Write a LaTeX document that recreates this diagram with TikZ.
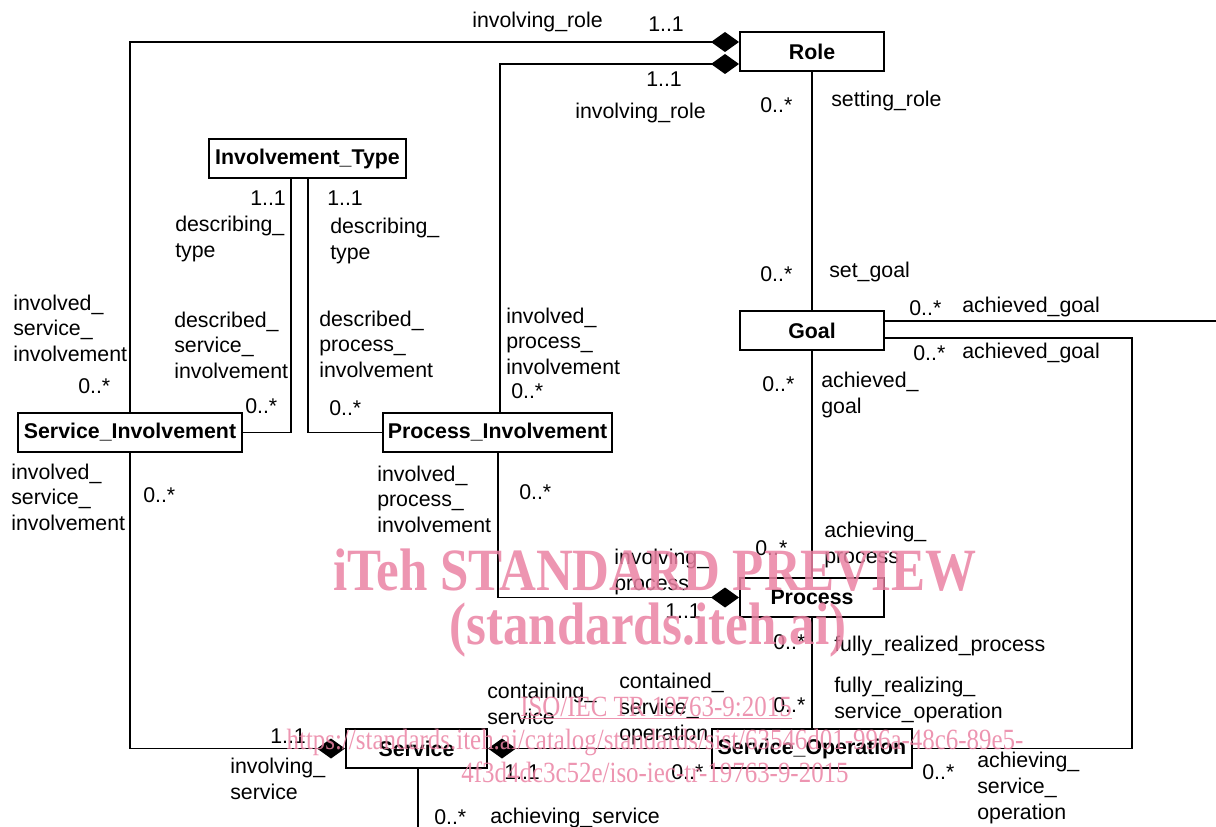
\documentclass[tikz,border=0pt]{standalone}
\usepackage{fontspec}
\setmainfont{Liberation Sans}
\newfontfamily\wmfont[FakeStretch=0.85]{Liberation Serif}
\usetikzlibrary{arrows.meta,calc}
\definecolor{wmpink}{RGB}{234,130,163}
\begin{document}
\begin{tikzpicture}[x=0.75pt,y=-0.75pt,
  box/.style={draw,line width=1.5pt,inner sep=0pt,minimum height=29.25pt,font=\fontsize{16}{19.2}\selectfont\bfseries},
  conn/.style={line width=1pt},
  comp/.style={conn,-{Diamond[length=21pt,width=15pt]}},
  lbl/.style={anchor=west,inner sep=0pt,align=left,yshift=-1.5pt,font=\fontsize{16}{19.2}\selectfont},
  wmbig/.style={text=wmpink,opacity=0.85,inner sep=0pt,font=\wmfont\bfseries\fontsize{45}{50}\selectfont},
  wmsmall/.style={text=wmpink,opacity=0.85,inner sep=0pt,font=\wmfont\fontsize{22}{24}\selectfont}]
\useasboundingbox (0,0) rectangle (1216,827);

% boxes
\node[box,minimum width=108pt] (role) at (812,51.5) {Role};
\node[box,minimum width=147.75pt] (itype) at (307.5,158.5) {Involvement\_Type};
\node[box,minimum width=168pt] (sinv) at (130,432.5) {Service\_Involvement};
\node[box,minimum width=171.75pt] (pinv) at (497.5,432.5) {Process\_Involvement};
\node[box,minimum width=108pt] (goal) at (812,330.5) {Goal};
\node[box,minimum width=108pt] (proc) at (812,597.5) {Process};
\node[box,minimum width=150pt] (sop) at (812,748.5) {Service\_Operation};
\node[box,minimum width=105.75pt] (serv) at (416.5,748.5) {Service};

% connectors
\draw[comp] (sinv.north) |- ($(role.west)+(0,-9.5)$);
\draw[comp] ($(pinv.north)+(2.5,0)$) |- ($(role.west)+(0,12.5)$);
\draw[conn] (role.south) -- (goal.north);
\draw[conn] (goal.south) -- (proc.north);
\draw[conn] (proc.south) -- (sop.north);
\draw[conn] ($(itype.south)+(-16.5,0)$) |- (sinv.east);
\draw[conn] ($(itype.south)+(0.5,0)$) |- (pinv.west);
\coordinate (goalout) at (1216,321);
\draw[conn] ($(goal.east)+(0,-9.5)$) -- (goalout);
\draw[conn] ($(goal.east)+(0,7.5)$) -| ($(sop.east)+(219,0)$) -- (sop.east);
\draw[comp] (sinv.south) |- (serv.west);
\draw[comp] ($(pinv.south)+(0.5,0)$) |- (proc.west);
\draw[comp] (sop.west) -- (serv.east);
\coordinate (servout) at (418,827);
\draw[conn] ($(serv.south)+(1.5,0)$) -- (servout);

% labels
\node[lbl] (l1) at (472,20) {involving\_role};
\node[lbl] (l2) at (648,22) {1..1};
\node[lbl] (l3) at (646,77) {1..1};
\node[lbl] (l4) at (575,111) {involving\_role};
\node[lbl] (l5) at (760,103) {0..*};
\node[lbl] (l6) at (831,99) {setting\_role};
\node[lbl] (l7) at (250,196) {1..1};
\node[lbl] (l8) at (327,196) {1..1};
\node[lbl] (l9) at (175,237) {describing\_\\type};
\node[lbl] (l10) at (330,239) {describing\_\\type};
\node[lbl] (l11) at (13,326) {involved\_\\service\_\\involvement};
\node[lbl] (l12) at (78,384) {0..*};
\node[lbl] (l13) at (174,343) {described\_\\service\_\\involvement};
\node[lbl] (l14) at (245,404) {0..*};
\node[lbl] (l15) at (319,342) {described\_\\process\_\\involvement};
\node[lbl] (l16) at (329,406) {0..*};
\node[lbl] (l17) at (506,339) {involved\_\\process\_\\involvement};
\node[lbl] (l18) at (511,389) {0..*};
\node[lbl] (l19) at (760,272) {0..*};
\node[lbl] (l20) at (829,270) {set\_goal};
\node[lbl] (l21) at (909,306) {0..*};
\node[lbl] (l22) at (962,305) {achieved\_goal};
\node[lbl] (l23) at (913,351) {0..*};
\node[lbl] (l24) at (962,351) {achieved\_goal};
\node[lbl] (l25) at (762,382) {0..*};
\node[lbl] (l26) at (821,393) {achieved\_\\goal};
\node[lbl] (l27) at (11,495) {involved\_\\service\_\\involvement};
\node[lbl] (l28) at (143,493) {0..*};
\node[lbl] (l29) at (377,497) {involved\_\\process\_\\involvement};
\node[lbl] (l30) at (519,490) {0..*};
\node[lbl] (l31) at (824,543) {achieving\_\\process};
\node[lbl] (l32) at (755,546) {0..*};
\node[lbl] (l33) at (614,570) {involving\_\\process};
\node[lbl] (l34) at (665,609) {1..1};
\node[lbl] (l35) at (773,640) {0..*};
\node[lbl] (l36) at (834,644) {fully\_realized\_process};
\node[lbl] (l37) at (619,707) {contained\_\\service\_\\operation};
\node[lbl] (l38) at (487,702) {containing\_\\service};
\node[lbl] (l39) at (834,698) {fully\_realizing\_\\service\_operation};
\node[lbl] (l40) at (773,703) {0..*};
\node[lbl] (l41) at (270,734) {1..1};
\node[lbl] (l42) at (230,777) {involving\_\\service};
\node[lbl] (l43) at (504,770) {1..1};
\node[lbl] (l44) at (671,770) {0..*};
\node[lbl] (l45) at (922,770) {0..*};
\node[lbl] (l46) at (977,786) {achieving\_\\service\_\\operation};
\node[lbl] (l47) at (434,815) {0..*};
\node[lbl] (l48) at (490,816) {achieving\_service};

% watermark
\node[wmbig] (w1) at (655,570) {iTeh STANDARD PREVIEW};
\node[wmbig] (w2) at (648,630) {(standards.iteh.ai)};
\node[wmsmall] (w3) at (656,708) {\underline{ISO/IEC TR 19763-9:2015}};
\node[wmsmall] (w4) at (655,742) {https://standards.iteh.ai/catalog/standards/sist/63546d01-996a-48c6-89e5-};
\node[wmsmall] (w5) at (655,772) {4f3d4dc3c52e/iso-iec-tr-19763-9-2015};
\end{tikzpicture}
\end{document}
